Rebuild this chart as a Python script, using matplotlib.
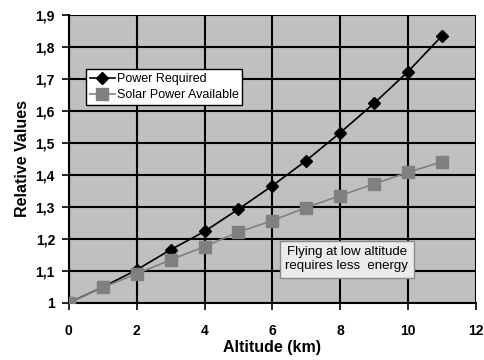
import matplotlib
matplotlib.use('Agg')
import matplotlib.pyplot as plt
from matplotlib.ticker import FuncFormatter

plt.rcParams['font.family'] = ['Liberation Sans', 'DejaVu Sans']

altitude = [0, 1, 2, 3, 4, 5, 6, 7, 8, 9, 10, 11]
power_required = [1.0, 1.049, 1.103, 1.166, 1.223, 1.293, 1.366, 1.445, 1.532, 1.624, 1.723, 1.835]
solar_available = [1.0, 1.048, 1.091, 1.134, 1.176, 1.221, 1.257, 1.298, 1.335, 1.372, 1.408, 1.441]

fig = plt.figure(figsize=(4.85, 3.6), dpi=100)
ax = fig.add_axes([0.142, 0.159, 0.839, 0.799])
ax.set_facecolor('#c0c0c0')

ax.plot(altitude, power_required, color='black', lw=1.2, marker='D',
        markersize=6, label='Power Required', zorder=3)
ax.plot(altitude, solar_available, color='#808080', lw=1.2, marker='s',
        markersize=8, label='Solar Power Available', zorder=4)

ax.set_xlim(0, 12)
ax.set_ylim(1, 1.9)
ax.set_xticks(range(0, 13, 2))
ax.set_yticks([1 + 0.1 * i for i in range(10)])

def comma(v, pos):
    s = ('%.1f' % v).rstrip('0').rstrip('.')
    return s.replace('.', ',')

ax.yaxis.set_major_formatter(FuncFormatter(comma))
ax.grid(True, color='black', lw=1.5)
ax.set_axisbelow(True)

for side in ['top', 'right']:
    ax.spines[side].set_visible(False)
ax.spines['left'].set_linewidth(1.5)
ax.spines['bottom'].set_linewidth(1.5)
ax.tick_params(length=5, width=1.2, labelsize=10)
ax.tick_params(axis='x', pad=10)
ax.tick_params(axis='y', pad=5)
for lab in ax.get_xticklabels() + ax.get_yticklabels():
    lab.set_fontweight('bold')

ax.set_xlabel('Altitude (km)', fontsize=11.5, fontweight='bold', labelpad=2)
ax.set_ylabel('Relative Values', fontsize=11.5, fontweight='bold', labelpad=4)

leg = ax.legend(loc='upper left', bbox_to_anchor=(0.042, 0.812), fontsize=9,
                frameon=True, fancybox=False, handlelength=2.0,
                handletextpad=0.15, borderpad=0.3, labelspacing=0.35,
                borderaxespad=0)
leg.get_frame().set_edgecolor('black')
leg.get_frame().set_linewidth(1.0)
leg.get_frame().set_facecolor('white')
leg.get_frame().set_alpha(1)

ax.text(8.2, 1.136, 'Flying at low altitude\nrequires less  energy', fontsize=9.5,
        ha='center', va='center', linespacing=1.25, zorder=5,
        bbox=dict(boxstyle='square,pad=0.4', facecolor='#ebebeb',
                  edgecolor='#8a8a8a', lw=1))

fig.savefig('out.png', dpi=100)
